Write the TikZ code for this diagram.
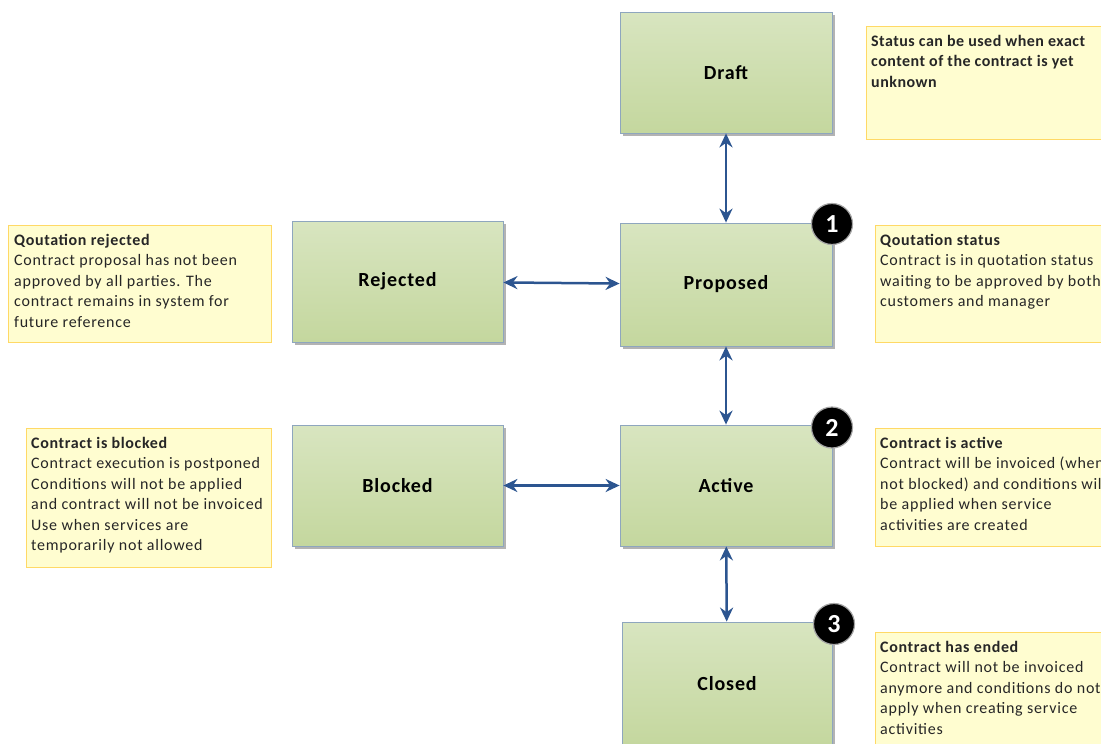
\documentclass[tikz,border=0pt]{standalone}
\usepackage{fontspec}
\setmainfont{Carlito}
\newfontfamily\notefont[LetterSpace=4.7]{Carlito}
\newfontfamily\notebold[LetterSpace=3.0]{Carlito}
\newfontfamily\headbold[LetterSpace=4.0]{Carlito}
\newfontfamily\statefont[LetterSpace=4.3]{Carlito}
\usetikzlibrary{arrows.meta,shadows,calc}
\definecolor{stateTop}{HTML}{D8E5C0}
\definecolor{stateBot}{HTML}{C4D79E}
\definecolor{stateLine}{HTML}{8EA6BE}
\definecolor{noteFill}{HTML}{FFFDD0}
\definecolor{noteLine}{HTML}{FFD966}
\definecolor{flow}{HTML}{2C5590}
\newcommand\notehead[1]{{\headbold\bfseries #1}}
\begin{document}
\begin{tikzpicture}[x=1pt,y=-1pt,
  state/.style={draw=stateLine, line width=0.8pt, top color=stateTop, bottom color=stateBot,
    minimum width=211pt, minimum height=121pt, inner sep=0pt,
    font=\statefont\fontsize{20}{22}\selectfont\bfseries,
    drop shadow={shadow xshift=3pt, shadow yshift=-3pt, fill=black!50, opacity=0.6}},
  note/.style={draw=noteLine, fill=noteFill, line width=0.8pt, anchor=north west, inner sep=0pt},
  notetext/.style={anchor=north west, inner sep=0pt, align=left,
    font=\notefont\fontsize{16}{20.5}\selectfont, text=black!85},
  link/.style={draw=flow, line width=2.5pt,
    {Stealth[length=14pt,width=13pt]}-{Stealth[length=14pt,width=13pt]}},
  badge/.style={circle, fill=black, draw=gray!70, line width=1.2pt, minimum size=41pt,
    inner sep=0pt, text=white, font=\fontsize{26}{26}\selectfont\bfseries}]
\useasboundingbox (0,0) rectangle (1101,744);
\clip (0,0) rectangle (1101,744);

% status boxes
\node[state, minimum width=212pt] (draft) at (726,72.5) {Draft};
\node[state, minimum width=212pt, minimum height=123pt] (prop) at (726,284.5) {Proposed};
\node[state] (rej) at (397.5,281.5) {Rejected};
\node[state, minimum width=212pt] (act) at (726,485.5) {Active};
\node[state] (blk) at (397.5,485.5) {Blocked};
\node[state, minimum width=210pt, minimum height=124pt] (clo) at (727,684) {Closed};

% transitions
\draw[link] (draft) -- (prop);
\draw[link] (rej) -- (prop);
\draw[link] (prop) -- (act);
\draw[link] (blk) -- (act);
\draw[link] (act) -- (clo);

% numbered markers
\node[badge] (b1) at (832,224) {1};
\node[badge] (b2) at (832,427.5) {2};
\node[badge] (b3) at (834,624) {3};

% notes
\node[note, minimum width=244pt, minimum height=113pt] (ndraft) at (866,26) {};
\node[notetext, font=\notebold\fontsize{16}{20.5}\selectfont\bfseries] (tdraft) at ($(ndraft.north west)+(5,9)$)
  {Status can be used when exact\\content of the contract is yet\\unknown};

\node[note, minimum width=263pt, minimum height=117pt] (nrej) at (8,225) {};
\node[notetext] (trej) at ($(nrej.north west)+(6,9)$)
  {\notehead{Qoutation rejected}\\Contract proposal has not been\\approved by all parties. The\\contract remains in system for\\future reference};

\node[note, minimum width=235pt, minimum height=117pt] (nprop) at (875,225) {};
\node[notetext] (tprop) at ($(nprop.north west)+(5,9)$)
  {\notehead{Qoutation status}\\Contract is in quotation status\\waiting to be approved by both\\customers and manager};

\node[note, minimum width=245pt, minimum height=139pt] (nblk) at (26,428) {};
\node[notetext] (tblk) at ($(nblk.north west)+(5,9)$)
  {\notehead{Contract is blocked}\\Contract execution is postponed\\Conditions will not be applied\\and contract will not be invoiced\\Use when services are\\temporarily not allowed};

\node[note, minimum width=235pt, minimum height=118pt] (nact) at (875,428) {};
\node[notetext] (tact) at ($(nact.north west)+(5,9)$)
  {\notehead{Contract is active}\\Contract will be invoiced (when\\not blocked) and conditions will\\be applied when service\\activities are created};

\node[note, minimum width=235pt, minimum height=128pt] (nclo) at (875,632) {};
\node[notetext] (tclo) at ($(nclo.north west)+(5,9)$)
  {\notehead{Contract has ended}\\Contract will not be invoiced\\anymore and conditions do not\\apply when creating service\\activities};
\end{tikzpicture}
\end{document}
